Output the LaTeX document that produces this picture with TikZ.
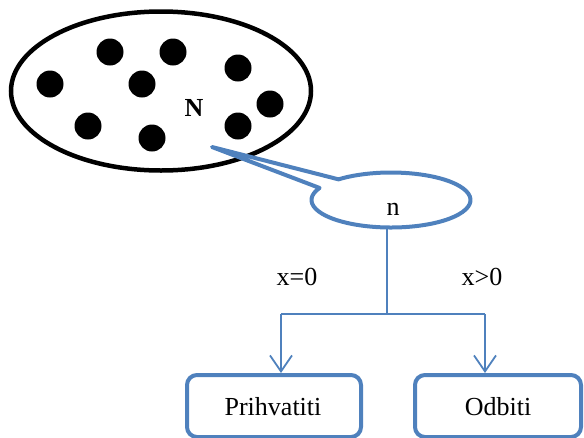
\documentclass[tikz,border=0pt]{standalone}
\usepackage{fontspec}
\setmainfont{Liberation Serif}
\usetikzlibrary{shapes.geometric,arrows.meta,calc}
\definecolor{ublue}{RGB}{79,129,189}
\tikzset{
  dot/.style={circle,fill=black,inner sep=0pt,minimum size=27pt},
  lbl/.style={font=\fontsize{26}{30}\selectfont,inner sep=0pt},
  choice/.style={draw=ublue,line width=4pt,rounded corners=10pt,inner sep=0pt},
  conn/.style={draw=ublue,line width=1.8pt},
  arr/.style={conn,-{Straight Barb[length=16pt,width=22pt,line width=1.8pt]}},
}
\begin{document}
\begin{tikzpicture}[x=1pt,y=1pt]
\useasboundingbox (0,0) rectangle (584,-437);
% big set
\node[draw=black,line width=4.5pt,ellipse,minimum width=300pt,minimum height=159pt,inner sep=0pt] (set) at (161,-91) {};
\node[dot] (d1) at (50,-84) {};
\node[dot] (d2) at (110,-52) {};
\node[dot] (d3) at (173,-52) {};
\node[dot] (d4) at (142,-84) {};
\node[dot] (d5) at (238,-68) {};
\node[dot] (d6) at (270,-104) {};
\node[dot] (d7) at (238,-126) {};
\node[dot] (d8) at (88,-126) {};
\node[dot] (d9) at (152,-138) {};
\node[lbl,font=\fontsize{26}{30}\selectfont\bfseries] (N) at (194,-108) {N};
% callout
\coordinate (tip) at (212,-147);
\coordinate (sc) at (391,-200);
\draw[ublue,line width=4pt,line join=round]
  ($(sc)+({79.5*cos(154)},{27.5*sin(154)})$)
  arc[start angle=154,end angle=491.3,x radius=79.5,y radius=27.5]
  -- (tip) -- cycle;
\node[lbl] (n) at (393,-209) {n};
\coordinate (sb) at (387,-229);
% tree
\coordinate (j) at (387,-314);
\coordinate (jl) at (281,-314);
\coordinate (jr) at (485,-314);
\node[choice,minimum width=174pt,minimum height=62pt] (acc) at (274,-406) {};
\node[choice,minimum width=166pt,minimum height=62pt] (rej) at (498,-406) {};
\node[lbl] at (273,-407) {Prihvatiti};
\node[lbl] at (498,-407) {Odbiti};
\draw[conn] (sb) -- (j);
\draw[conn] (jl) -- (jr);
\draw[arr] (jl) -- (jl |- acc.north);
\draw[arr] (jr) -- (jr |- rej.north);
\node[lbl] (l0) at (297,-277) {x=0};
\node[lbl] (l1) at (482,-277) {x>0};
\end{tikzpicture}
\end{document}
